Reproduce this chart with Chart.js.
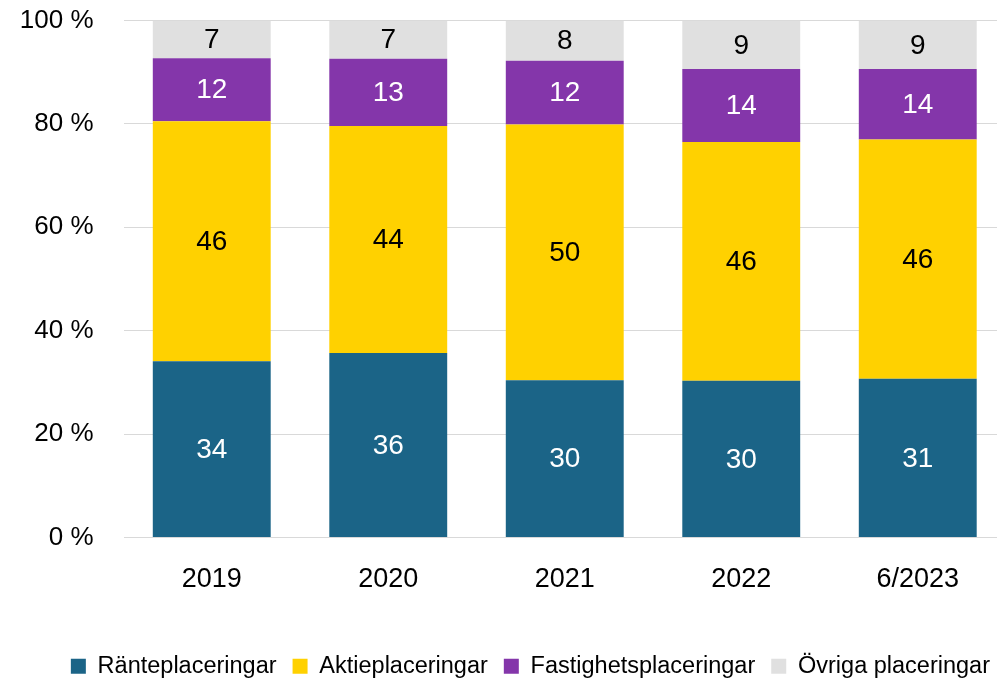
<!DOCTYPE html>
<html>
<head>
<meta charset="utf-8">
<script src="https://cdn.jsdelivr.net/npm/chart.js@4"></script>
<style>
  html, body { margin: 0; padding: 0; background: #fff; overflow: hidden; }
  #wrap { width: 997px; height: 681px; overflow: hidden; }
</style>
</head>
<body>
<div id="wrap"><canvas id="chart" width="1006" height="688"></canvas></div>
<script>
const years = ["2019", "2020", "2021", "2022", "6/2023"];
const rante = [34.1, 35.7, 30.4, 30.3, 30.7];
const aktie = [46.4, 43.9, 49.5, 46.2, 46.3];
const fastighet = [12.2, 13.0, 12.3, 14.1, 13.6];
const ovriga = [7.3, 7.4, 7.8, 9.4, 9.4];

const FONT = "'Liberation Sans', Arial, sans-serif";

// numbers inside the bar segments
const segmentLabels = {
  id: "segmentLabels",
  afterDatasetsDraw(chart) {
    const ctx = chart.ctx;
    ctx.save();
    ctx.font = "28px " + FONT;
    ctx.textAlign = "center";
    ctx.textBaseline = "middle";
    chart.data.datasets.forEach((ds, i) => {
      const meta = chart.getDatasetMeta(i);
      meta.data.forEach((bar, j) => {
        ctx.fillStyle = ds.labelColor;
        ctx.fillText(String(Math.round(ds.data[j])), bar.x, (bar.y + bar.base) / 2 + 1);
      });
    });
    ctx.restore();
  },
};

const ctx = document.querySelector("#chart");
const chart = new Chart(ctx, {
  type: "bar",
  data: {
    labels: years,
    datasets: [
      { label: "Ränteplaceringar", data: rante, backgroundColor: "#1b6487", labelColor: "#ffffff" },
      { label: "Aktieplaceringar", data: aktie, backgroundColor: "#ffd100", labelColor: "#000000" },
      { label: "Fastighetsplaceringar", data: fastighet, backgroundColor: "#8436aa", labelColor: "#ffffff" },
      { label: "Övriga placeringar", data: ovriga, backgroundColor: "#e0e0e0", labelColor: "#000000" },
    ],
  },
  options: {
    responsive: false,
    animation: false,
    devicePixelRatio: 1,
    layout: { padding: { left: 10, right: 0, top: 20.5, bottom: 0 } },
    datasets: { bar: { barPercentage: 0.668, categoryPercentage: 1, borderWidth: 0 } },
    scales: {
      x: {
        stacked: true,
        grid: { display: false, drawTicks: false },
        border: { display: false },
        ticks: { color: "#000", font: { family: FONT, size: 27 }, padding: 26 },
        afterFit: (scale) => { scale.height = 101; },
      },
      y: {
        stacked: true,
        min: 0,
        max: 100,
        grid: { color: "#d9d9d9", lineWidth: 1, drawTicks: true, tickLength: 30, tickColor: "rgba(0,0,0,0)" },
        border: { display: false },
        ticks: {
          stepSize: 20,
          color: "#000",
          font: { family: FONT, size: 26 },
          padding: 0,
          callback: (v) => v + " %",
        },
        afterFit: (scale) => { scale.width = 113.5; },
      },
    },
    plugins: {
      legend: {
        position: "bottom",
        align: "end",
        labels: {
          color: "#000",
          font: { family: FONT, size: 23.5 },
          boxWidth: 15,
          boxHeight: 15,
          padding: 16,
        },
      },
      tooltip: { enabled: false },
    },
  },
  plugins: [segmentLabels],
});
</script>
</body>
</html>
